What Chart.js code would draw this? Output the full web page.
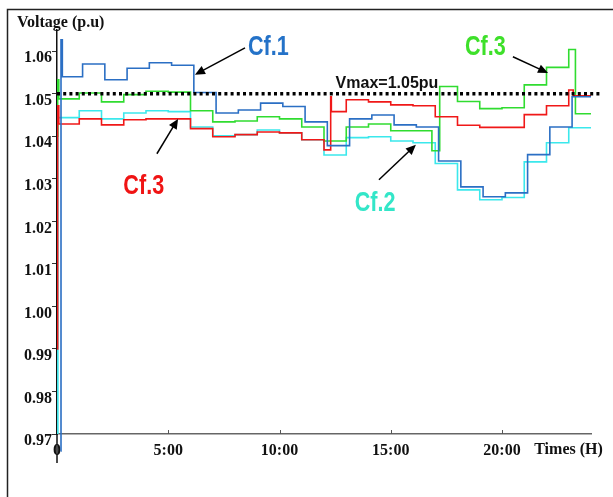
<!DOCTYPE html>
<html>
<head>
<meta charset="utf-8">
<title>Voltage profiles</title>
<script src="https://cdn.jsdelivr.net/npm/chart.js@4.4.1/dist/chart.umd.min.js"></script>
<style>
  html, body { margin: 0; padding: 0; background: #fff; }
  #wrap { width: 613px; height: 497px; }
</style>
</head>
<body>
<div id="wrap"><canvas id="voltageChart" width="613" height="497"></canvas></div>
<script>
"use strict";

// Axis ticks
const hourTicks = [0, 5, 10, 15, 20];
const hourLabels = ["0", "5:00", "10:00", "15:00", "20:00"];
const voltTicks = [0.97, 0.98, 0.99, 1.0, 1.01, 1.02, 1.03, 1.04, 1.05, 1.06];

// Step series (value holds from its hour until the next hour in the list)
// Cf.1 (blue)
const cf1Hours = [0.16, 0.18, 0.24, 1.15, 2.15, 3.15, 4.15, 5.15, 6.15, 7.15, 8.15, 9.15, 10.15, 11.15,
  12.15, 13.15, 14.15, 15.15, 16.15, 17.15, 18.15, 19.15, 20.15, 21.15, 22.15, 23.15, 24];
const cf1Volts = [0.966, 1.0627, 1.054, 1.057, 1.0533, 1.056, 1.0573, 1.0567, 1.0503, 1.0455, 1.0462, 1.0478, 1.047, 1.0434,
  1.0378, 1.0441, 1.045, 1.0427, 1.0422, 1.0342, 1.0281, 1.0258, 1.0267, 1.0357, 1.0422, 1.0493, 1.0493];

// Cf.2 (cyan)
const cf2Hours = [0, 0.04, 1, 2, 3, 4, 5, 6, 7, 8, 9, 10, 11, 12, 13, 14, 15, 16, 17, 18, 19, 20, 21, 22, 23, 24];
const cf2Volts = [0.97, 1.0444, 1.046, 1.0441, 1.0455, 1.046, 1.0458, 1.0422, 1.0401, 1.0404, 1.0415, 1.0408, 1.0392,
  1.0356, 1.0397, 1.0399, 1.0389, 1.0385, 1.0336, 1.0274, 1.0251, 1.0256, 1.034, 1.0385, 1.042, 1.042];

// Cf.3 (red)
const cf3Hours = [0, 0.03, 0.08, 1, 2, 3, 4, 5, 6, 7, 8, 9, 10, 11, 12, 12.3, 12.33, 13, 14, 15, 16, 17, 18, 19, 20,
  21, 22, 23, 23.2, 24];
const cf3Volts = [0.99, 1.0472, 1.0429, 1.0441, 1.0427, 1.0439, 1.0441, 1.0441, 1.0418, 1.0399, 1.0404, 1.041, 1.0408,
  1.0392, 1.0368, 1.0493, 1.0458, 1.0486, 1.0481, 1.0474, 1.0472, 1.0446, 1.0426, 1.0421, 1.0421, 1.0451, 1.0472,
  1.0509, 1.0495, 1.0495];

// Cf.3 (green curve, labelled Cf.3 in the figure too)
const greenHours = [0, 0.03, 0.08, 1, 2, 3, 4, 5, 6, 7, 8, 9, 10, 11, 12, 13, 14, 15, 16.85, 17.2, 18, 19, 20, 21, 22,
  23, 23.3, 24];
const greenVolts = [1.04, 1.0533, 1.0488, 1.0502, 1.0481, 1.0498, 1.0506, 1.0504, 1.046, 1.0434, 1.0436, 1.0446, 1.0441,
  1.0422, 1.0389, 1.0422, 1.0429, 1.0413, 1.0366, 1.0517, 1.0482, 1.0465, 1.0467, 1.0521, 1.0562, 1.0604, 1.0453, 1.0453];

// Voltage limit
const vmaxLimit = 1.05;
const vmaxSpan = [0, 24.4];

const toPoints = (hours, volts) => hours.map((h, i) => ({ x: h, y: volts[i] }));

// Text labels + arrows, placed in data units (hours, p.u)
const callouts = [
  { text: "Cf.1", color: "#2472c8", label: [9.5, 1.0611], tail: [8.45, 1.0608], head: [6.2, 1.0545] },
  { text: "Cf.3", color: "#f01414", label: [3.9, 1.0284], tail: [4.49, 1.0359], head: [5.44, 1.0441] },
  { text: "Cf.2", color: "#33e6c8", label: [14.3, 1.0244], tail: [14.47, 1.0298], head: [16.13, 1.038] },
  { text: "Cf.3", color: "#3ee02a", label: [19.25, 1.0611], tail: [20.49, 1.0587], head: [22.07, 1.0549] },
];

function drawArrow(ctx, x1, y1, x2, y2) {
  const ang = Math.atan2(y2 - y1, x2 - x1);
  const len = 10;
  ctx.beginPath();
  ctx.moveTo(x1, y1);
  ctx.lineTo(x2 - Math.cos(ang) * len * 0.8, y2 - Math.sin(ang) * len * 0.8);
  ctx.stroke();
  ctx.beginPath();
  ctx.moveTo(x2, y2);
  ctx.lineTo(x2 - len * Math.cos(ang) + 4.5 * Math.sin(ang), y2 - len * Math.sin(ang) - 4.5 * Math.cos(ang));
  ctx.lineTo(x2 - len * Math.cos(ang) - 4.5 * Math.sin(ang), y2 - len * Math.sin(ang) + 4.5 * Math.cos(ang));
  ctx.closePath();
  ctx.fill();
}

const decorations = {
  id: "decorations",
  beforeDraw(chart) {
    const ctx = chart.ctx;
    ctx.save();
    ctx.fillStyle = "#fff";
    ctx.fillRect(0, 0, chart.width, chart.height);
    // outer frame (cut off on the right and bottom)
    ctx.strokeStyle = "#222";
    ctx.lineWidth = 1.5;
    ctx.beginPath();
    ctx.moveTo(7.5, chart.height);
    ctx.lineTo(7.5, 9.5);
    ctx.lineTo(chart.width, 9.5);
    ctx.stroke();
    ctx.restore();
  },
  afterDraw(chart) {
    const ctx = chart.ctx;
    const xs = chart.scales.x;
    const ys = chart.scales.y;
    const area = chart.chartArea;
    ctx.save();

    // y axis runs a little below the x axis, x ticks point up
    ctx.strokeStyle = "#111";
    ctx.lineWidth = 1.5;
    ctx.beginPath();
    ctx.moveTo(area.left, area.bottom);
    ctx.lineTo(area.left, area.bottom + 29);
    ctx.stroke();
    ctx.strokeStyle = "#555";
    ctx.lineWidth = 1;
    hourTicks.slice(1).forEach((h) => {
      const px = Math.round(xs.getPixelForValue(h)) + 0.5;
      ctx.beginPath();
      ctx.moveTo(px, area.bottom);
      ctx.lineTo(px, area.bottom - 4);
      ctx.stroke();
    });

    // axis titles
    ctx.fillStyle = "#111";
    ctx.font = 'bold 16px "Liberation Serif"';
    ctx.textBaseline = "middle";
    ctx.textAlign = "left";
    ctx.fillText("Voltage (p.u)", 17, 23);
    ctx.textAlign = "center";
    ctx.fillText("Times (H)", xs.getPixelForValue(22.99), 450);

    // limit label
    ctx.font = 'bold 16px "Liberation Sans"';
    ctx.fillText("Vmax=1.05pu", xs.getPixelForValue(14.83), ys.getPixelForValue(1.0524));

    // callouts
    ctx.strokeStyle = "#000";
    ctx.fillStyle = "#000";
    ctx.lineWidth = 1.5;
    callouts.forEach((c) => {
      drawArrow(ctx,
        xs.getPixelForValue(c.tail[0]), ys.getPixelForValue(c.tail[1]),
        xs.getPixelForValue(c.head[0]), ys.getPixelForValue(c.head[1]));
    });
    ctx.font = 'bold 27px "Liberation Sans"';
    callouts.forEach((c) => {
      ctx.save();
      ctx.translate(xs.getPixelForValue(c.label[0]), ys.getPixelForValue(c.label[1]));
      ctx.scale(0.8, 1);
      ctx.fillStyle = c.color;
      ctx.fillText(c.text, 0, 1);
      ctx.restore();
    });
    ctx.restore();
  },
};

const stepLine = (label, hours, volts, color) => ({
  label,
  data: toPoints(hours, volts),
  borderColor: color,
  borderWidth: 1.6,
  pointRadius: 0,
  stepped: "before",
  fill: false,
});

const ctx = document.getElementById("voltageChart").getContext("2d");

new Chart(ctx, {
  type: "line",
  data: {
    datasets: [
      {
        label: "Vmax",
        data: vmaxSpan.map((h) => ({ x: h, y: vmaxLimit })),
        borderColor: "#000",
        borderWidth: 3.5,
        borderDash: [3, 3.2],
        pointRadius: 0,
        clip: false,
      },
      Object.assign(stepLine("Cf.1", cf1Hours, cf1Volts, "#2b6fc4"), {
        clip: { left: 0, top: 0, right: 0, bottom: 20 },
      }),
      stepLine("Cf.3", cf3Hours, cf3Volts, "#f01818"),
      stepLine("Cf.3", greenHours, greenVolts, "#30dc30"),
      stepLine("Cf.2", cf2Hours, cf2Volts, "#3be8ec"),
    ],
  },
  plugins: [decorations],
  options: {
    responsive: false,
    animation: false,
    devicePixelRatio: 1,
    layout: { padding: { top: 30, right: 22, left: 0, bottom: 0 } },
    plugins: {
      legend: { display: false },
      tooltip: { enabled: false },
    },
    scales: {
      x: {
        type: "linear",
        min: 0,
        max: 24,
        afterFit: (s) => { s.height = 63; },
        afterBuildTicks: (s) => { s.ticks = hourTicks.map((v) => ({ value: v })); },
        grid: { display: false, drawTicks: false },
        border: { display: true, color: "#666", width: 1.5 },
        ticks: {
          padding: 7,
          color: "#111",
          font: { family: "Liberation Serif", size: 16, weight: "bold" },
          maxRotation: 0,
          autoSkip: false,
          callback: (v) => hourLabels[hourTicks.indexOf(v)],
        },
      },
      y: {
        min: 0.97,
        max: 1.065,
        afterFit: (s) => { s.width = 57; },
        afterBuildTicks: (s) => { s.ticks = voltTicks.map((v) => ({ value: v })); },
        grid: { display: true, drawOnChartArea: false, drawTicks: true, tickLength: 5, color: "#333" },
        border: { display: true, color: "#111", width: 1.5 },
        ticks: {
          padding: 0,
          labelOffset: 7,
          color: "#111",
          font: { family: "Liberation Serif", size: 16, weight: "bold" },
          autoSkip: false,
          callback: (v) => v.toFixed(2),
        },
      },
    },
  },
});
</script>
</body>
</html>
